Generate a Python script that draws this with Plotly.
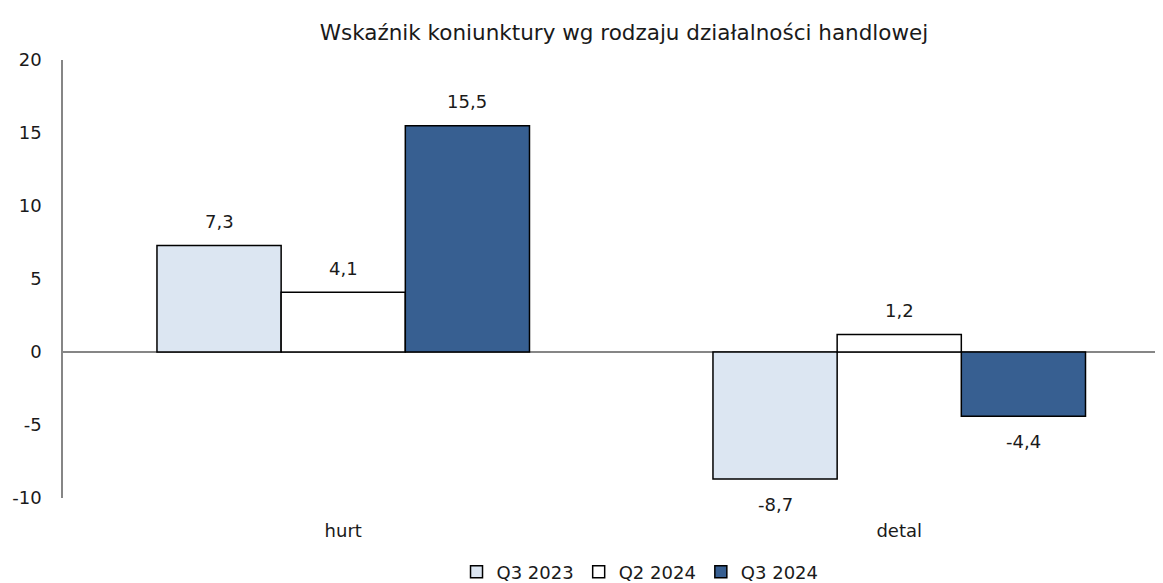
import plotly.graph_objects as go

# dane
kategorie = ['hurt', 'detal']
serie = ['Q3 2023', 'Q2 2024', 'Q3 2024']
wartosci = {
    'Q3 2023': [7.3, -8.7],
    'Q2 2024': [4.1, 1.2],
    'Q3 2024': [15.5, -4.4],
}
kolory = {'Q3 2023': '#dce6f2', 'Q2 2024': '#ffffff', 'Q3 2024': '#375f91'}
y_ticks = [-10, -5, 0, 5, 10, 15, 20]

FONT = 'DejaVu Sans'
bargap = 0.33
szer = (1 - bargap) / len(serie)

# strona html ma margines 8 px, więc figura jest odrobinę mniejsza od okna
W, H = 1155, 575

fig = go.Figure()
for nazwa in serie:
    fig.add_trace(go.Bar(
        x=kategorie, y=wartosci[nazwa], name=nazwa,
        marker=dict(color=kolory[nazwa], line=dict(color='black', width=1.5)),
    ))

# etykiety danych nad / pod słupkami
for j, nazwa in enumerate(serie):
    for i, v in enumerate(wartosci[nazwa]):
        fig.add_annotation(
            x=i + (j - 1) * szer, y=v, text=f'{v:.1f}'.replace('.', ','),
            showarrow=False, yshift=24 if v >= 0 else -25,
            font=dict(family=FONT, size=18, color='#1a1a1a'),
        )

fig.update_layout(
    width=W, height=H,
    plot_bgcolor='white', paper_bgcolor='white',
    barmode='group', bargap=bargap, bargroupgap=0,
    margin=dict(l=55, r=3, t=52, b=85, autoexpand=False),
    font=dict(family=FONT, size=18, color='#1a1a1a'),
    title=dict(text='Wskaźnik koniunktury wg rodzaju działalności handlowej',
               x=616 / W, xanchor='center', y=1 - 24 / H, yanchor='middle',
               font=dict(family=FONT, size=21.5, color='#1a1a1a')),
    legend=dict(orientation='h', x=0.526, xanchor='center', y=-0.169, yanchor='middle',
                font=dict(size=18), itemwidth=30, traceorder='normal'),
    showlegend=True,
)
fig.update_xaxes(range=[-0.504, 1.469], showline=False, showgrid=False,
                 ticks='', ticklabelstandoff=20, zeroline=False, automargin=False)
fig.update_yaxes(range=[-10, 20], tickvals=y_ticks, ticktext=[str(t) for t in y_ticks],
                 showgrid=False, showline=True, linecolor='#868686', linewidth=1.5,
                 zeroline=True, zerolinecolor='#868686', zerolinewidth=1.5,
                 ticks='', ticklabelstandoff=16, automargin=False)

fig.write_html('out.html')
